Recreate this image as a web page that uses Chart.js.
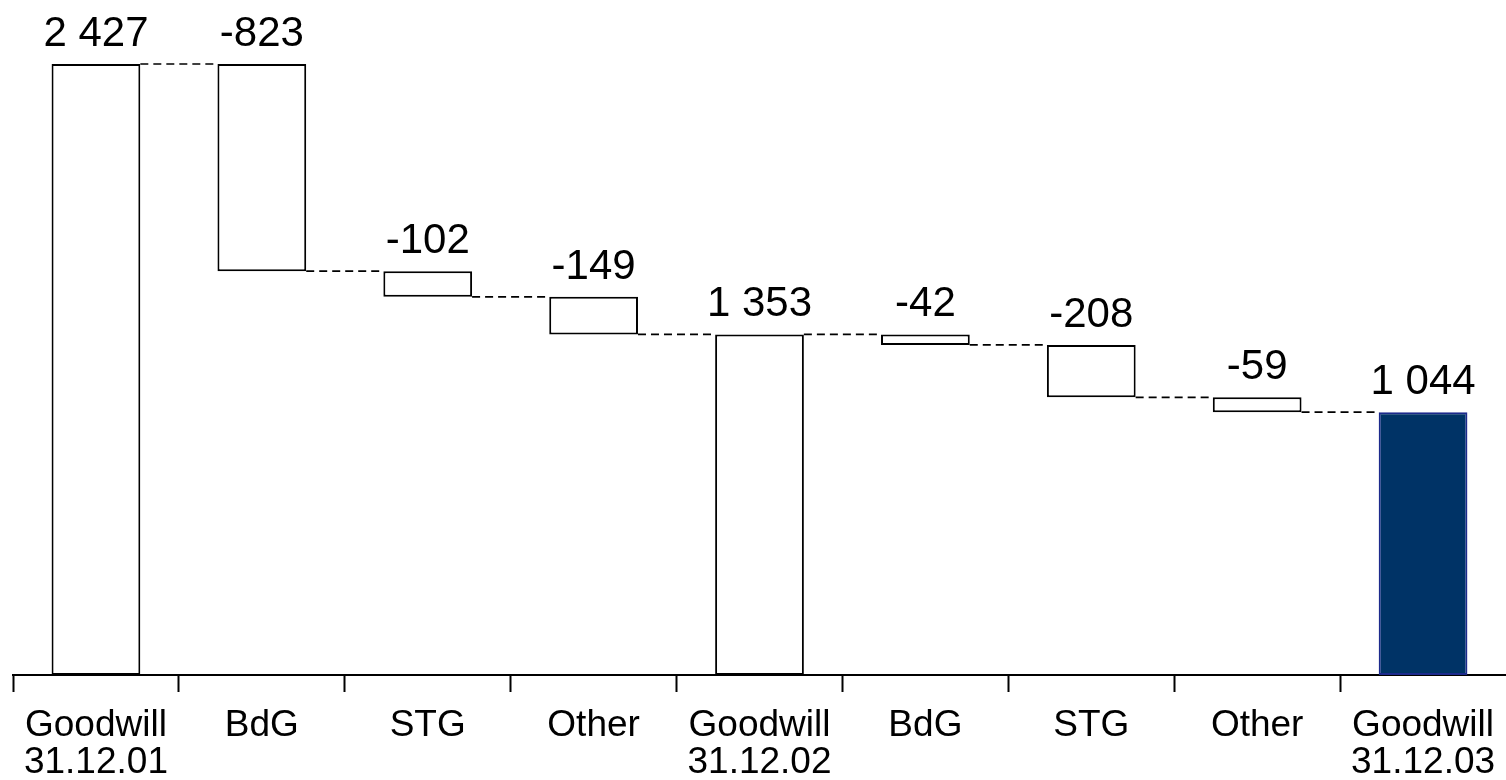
<!DOCTYPE html>
<html>
<head>
<meta charset="utf-8">
<script src="https://cdn.jsdelivr.net/npm/chart.js@4.4.1/dist/chart.umd.min.js"></script>
<style>
  html, body { margin: 0; padding: 0; background: #ffffff; overflow: hidden; }
  #c { display: block; }
</style>
</head>
<body>
<canvas id="c" width="1506" height="780"></canvas>
<script>
// ---- data ----
const categories = [
  ['Goodwill', '31.12.01'], 'BdG', 'STG', 'Other',
  ['Goodwill', '31.12.02'], 'BdG', 'STG', 'Other',
  ['Goodwill', '31.12.03']
];
// true = total bar (from zero), false = change
const isTotal = [true, false, false, false, true, false, false, false, true];
const values = [2427, -823, -102, -149, 1353, -42, -208, -59, 1044];
const valueLabels = ['2 427', '-823', '-102', '-149', '1 353', '-42', '-208', '-59', '1 044'];

// build floating ranges from the values
const ranges = [];
let running = 0;
for (let i = 0; i < values.length; i++) {
  if (isTotal[i]) {
    running = values[i];
    ranges.push([0, values[i]]);
  } else {
    const start = running;
    running = running + values[i];
    ranges.push([Math.min(start, running), Math.max(start, running)]);
  }
}
const connectorLevels = [];
running = 0;
for (let i = 0; i < values.length; i++) {
  running = isTotal[i] ? values[i] : running + values[i];
  connectorLevels.push(running);
}

const fills = isTotal.map((t, i) => i === values.length - 1 ? '#003366' : '#ffffff');
const borders = isTotal.map((t, i) => i === values.length - 1 ? '#1c2a8c' : '#000000');

const overlay = {
  id: 'overlay',
  afterDatasetsDraw(chart) {
    const ctx = chart.ctx;
    const meta = chart.getDatasetMeta(0);
    const y = chart.scales.y;
    ctx.save();
    // connectors
    ctx.strokeStyle = '#000000';
    ctx.lineWidth = 1.7;
    ctx.setLineDash([8, 5]);
    for (let i = 0; i < meta.data.length - 1; i++) {
      const a = meta.data[i], b = meta.data[i + 1];
      const py = y.getPixelForValue(connectorLevels[i]);
      ctx.beginPath();
      ctx.moveTo(a.x + a.width / 2, py);
      ctx.lineTo(b.x - b.width / 2, py);
      ctx.stroke();
    }
    ctx.setLineDash([]);
    // value labels
    ctx.fillStyle = '#000000';
    ctx.font = '42px "Liberation Sans", Arial, sans-serif';
    ctx.textAlign = 'center';
    ctx.textBaseline = 'alphabetic';
    for (let i = 0; i < meta.data.length; i++) {
      const el = meta.data[i];
      const top = y.getPixelForValue(ranges[i][1]);
      ctx.fillText(valueLabels[i], el.x, top - 18);
    }
    ctx.restore();
  }
};

new Chart(document.getElementById('c'), {
  type: 'bar',
  data: {
    labels: categories,
    datasets: [{
      data: ranges,
      backgroundColor: fills,
      borderColor: borders,
      borderWidth: 2,
      borderSkipped: false,
      barPercentage: 0.535,
      categoryPercentage: 1.0
    }]
  },
  options: {
    responsive: false,
    animation: false,
    layout: { padding: { top: 64, left: 13, right: 0, bottom: 0 } },
    plugins: { legend: { display: false }, tooltip: { enabled: false } },
    scales: {
      x: {
        offset: true,
        afterFit(scale) {
          scale.height = 105;
          scale.paddingRight = 0;
          scale.paddingLeft = 0;
        },
        grid: {
          offset: true,
          drawOnChartArea: false,
          drawTicks: true,
          tickLength: 17,
          tickWidth: 2,
          tickColor: (c) => (c.tick ? '#000000' : 'rgba(0,0,0,0)')
        },
        border: { display: true, color: '#000000', width: 2 },
        ticks: {
          color: '#000000',
          font: { family: '"Liberation Sans", Arial, sans-serif', size: 37, lineHeight: 1.0 },
          padding: 15,
          maxRotation: 0,
          autoSkip: false
        }
      },
      y: {
        display: false,
        min: 0,
        max: 2427
      }
    }
  },
  plugins: [overlay]
});
</script>
</body>
</html>
